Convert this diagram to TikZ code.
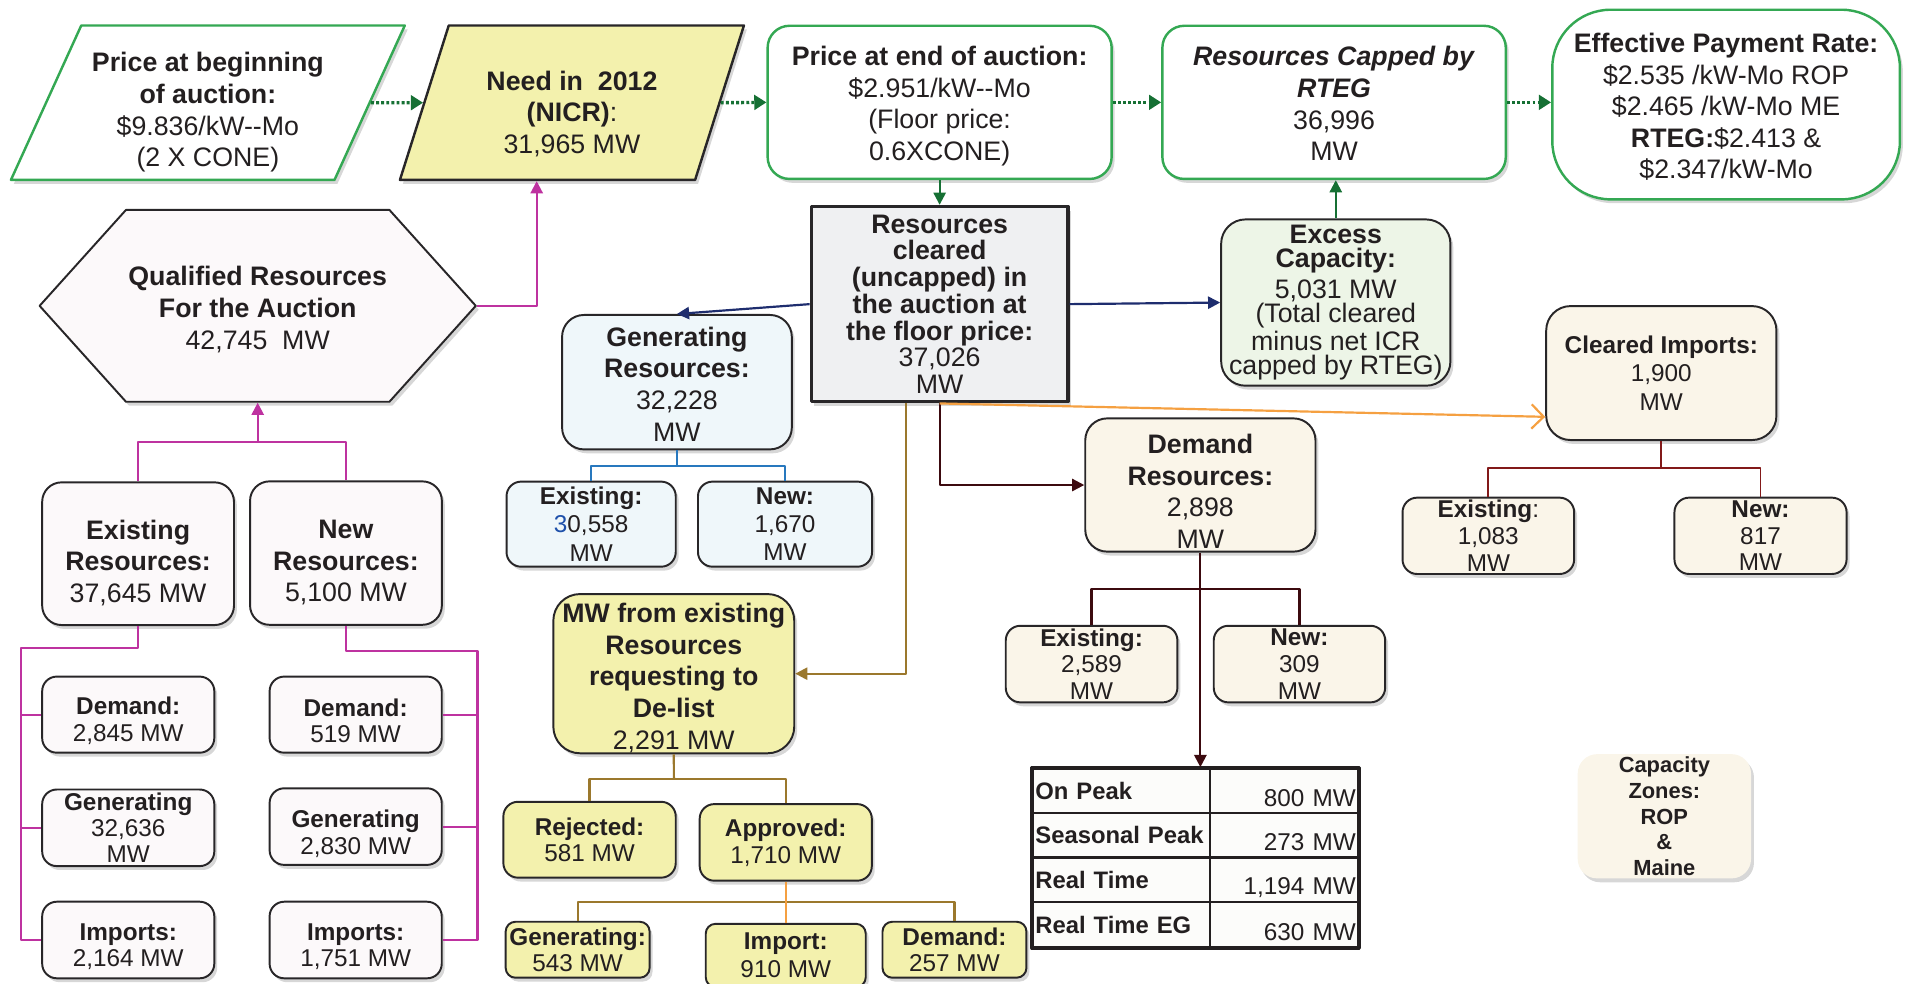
\documentclass[tikz,border=0pt]{standalone}
\usepackage{fontspec}
\setmainfont{Liberation Sans}
\usetikzlibrary{shapes.geometric,shapes.symbols,arrows.meta,shadows}

\definecolor{ink}{RGB}{35,31,32}
\definecolor{edge}{RGB}{40,38,40}
\definecolor{grnline}{RGB}{52,168,83}
\definecolor{dkgreen}{RGB}{22,112,52}
\definecolor{yel}{RGB}{243,241,173}
\definecolor{pinkw}{RGB}{252,249,250}
\definecolor{grayf}{RGB}{239,240,242}
\definecolor{bluef}{RGB}{239,247,250}
\definecolor{greenf}{RGB}{237,245,231}
\definecolor{cream}{RGB}{250,245,233}
\definecolor{tabw}{RGB}{252,252,250}
\definecolor{mag}{RGB}{190,50,160}
\definecolor{navy}{RGB}{30,45,110}
\definecolor{busblue}{RGB}{40,120,190}
\definecolor{gold}{RGB}{155,120,45}
\definecolor{maroon}{RGB}{60,10,15}
\definecolor{busred}{RGB}{130,25,25}
\definecolor{orng}{RGB}{245,160,65}
\definecolor{digit}{RGB}{30,80,170}

% taller first line pushes the text block down
\newcommand{\topgap}[1]{\rule{0pt}{#1}}

\begin{document}
\begin{tikzpicture}[x=0.5pt, y=-0.5pt, line join=round,
  every node/.style={align=center, text=ink, inner sep=1pt},
  big/.style={font=\fontsize{11}{13}\selectfont},
  small/.style={font=\fontsize{10}{11}\selectfont},
  shade/.style={drop shadow={shadow xshift=1.2pt, shadow yshift=-1.6pt, opacity=0.35, fill=black!45}},
  card/.style={draw=edge, line width=0.8pt, rounded corners=7pt, shade},
  topbox/.style={card, big, draw=grnline, fill=white, line width=1pt, rounded corners=9pt,
    minimum height=63pt},
  pgram/.style={trapezium, trapezium stretches body, minimum height=63.5pt, line width=1pt,
    big, shade},
  subbox/.style={card, small, inner ysep=0pt, rounded corners=6pt},
  cellL/.style={draw=ink, line width=1pt, fill=tabw, minimum height=18.35pt, text width=70.7pt,
    inner xsep=1pt, align=left, font=\bfseries\fontsize{9.8}{11}\selectfont},
  cellR/.style={draw=ink, line width=1pt, fill=tabw, minimum height=18.35pt, text width=59pt,
    inner xsep=1pt, align=right, font=\fontsize{10}{11}\selectfont},
  tri/.style={-{Triangle[length=5pt,width=5pt]}},
  dotarrow/.style={draw=dkgreen, line width=1.4pt, dash pattern=on 1.2pt off 0.9pt,
    -{Triangle[length=5pt,width=6pt]}},
  grnarrow/.style={draw=dkgreen, line width=0.9pt, tri},
  magline/.style={draw=mag, line width=0.9pt},
  navyline/.style={draw=navy, line width=0.9pt},
  blueline/.style={draw=busblue, line width=0.8pt},
  goldline/.style={draw=gold, line width=0.9pt},
  maroonline/.style={draw=maroon, line width=0.9pt},
  redline/.style={draw=busred, line width=0.8pt},
  orangeline/.style={draw=orng, line width=0.9pt}]
\useasboundingbox (0,0) rectangle (1568,809);

% top row
\node[pgram, fill=white, draw=grnline, trapezium left angle=64, trapezium right angle=116,
  minimum width=162pt] (pb) at (171,84.5)
  {\topgap{16pt}\textbf{Price at beginning}\\\textbf{of auction:}\\\$9.836/kW-{}-Mo\\(2 X CONE)};
\node[pgram, fill=yel, draw=edge, trapezium left angle=66.6, trapezium right angle=113.4,
  minimum width=141.5pt] (need) at (470.5,84.5)
  {\topgap{17pt}\textbf{Need in\ \ 2012}\\\textbf{(NICR)}:\\31,965 MW};
\node[topbox, minimum width=141.5pt] (pe) at (773,84.2)
  {\topgap{11pt}\textbf{Price at end of auction:}\\\$2.951/kW-{}-Mo\\(Floor price:\\0.6XCONE)};
\node[topbox, minimum width=141.25pt] (rc) at (1097.5,84.2)
  {\topgap{9pt}\textbf{\itshape Resources Capped by}\\\textbf{\itshape RTEG}\\36,996\\MW};
\node[topbox, rounded corners=24pt, minimum width=143pt, minimum height=78pt] (ep) at (1420,86)
  {\topgap{10pt}\textbf{Effective Payment Rate:}\\\$2.535 /kW-Mo ROP\\\$2.465 /kW-Mo ME\\\textbf{RTEG:}\$2.413 \&\\\$2.347/kW-Mo};

% qualified resources
\node[signal, signal to=east and west, signal pointer angle=96, minimum width=177.3pt,
  minimum height=78.9pt, fill=pinkw, draw=edge, line width=0.8pt, shade, big] (qr) at (212,251.6)
  {\topgap{11pt}\textbf{Qualified Resources}\\\textbf{For the Auction}\\42,745\ \ MW};
\node[card, big, fill=pinkw, rounded corners=8pt, minimum width=78.9pt, minimum height=58.7pt] (er) at (113.6,455.5)
  {\topgap{15.5pt}\textbf{Existing}\\\textbf{Resources:}\\37,645 MW};
\node[card, big, fill=pinkw, rounded corners=8pt, minimum width=78.9pt, minimum height=59pt] (nr) at (284.6,455)
  {\topgap{15.5pt}\textbf{New}\\\textbf{Resources:}\\5,100 MW};
\node[subbox, fill=pinkw, minimum width=70.8pt, minimum height=31.3pt] (ld) at (105.5,587.9)
  {\topgap{12.3pt}\textbf{Demand:}\\2,845 MW};
\node[subbox, fill=pinkw, minimum width=70.8pt, minimum height=31.5pt, font=\fontsize{10}{10.7}\selectfont] (lg) at (105.5,681)
  {\textbf{Generating}\\32,636\\MW};
\node[subbox, fill=pinkw, minimum width=70.8pt, minimum height=31.5pt] (li) at (105.5,773.3)
  {\topgap{12.3pt}\textbf{Imports:}\\2,164 MW};
\node[subbox, fill=pinkw, minimum width=70.8pt, minimum height=31.3pt] (rd) at (292.6,587.9)
  {\topgap{12.3pt}\textbf{Demand:}\\519 MW};
\node[subbox, fill=pinkw, minimum width=70.8pt, minimum height=31.5pt] (rg) at (292.6,680)
  {\topgap{13.3pt}\textbf{Generating}\\2,830 MW};
\node[subbox, fill=pinkw, minimum width=70.8pt, minimum height=31.5pt] (ri) at (292.6,773.3)
  {\topgap{12.3pt}\textbf{Imports:}\\1,751 MW};

% cleared in the auction
\node[draw=edge, line width=1.5pt, fill=grayf, shade, minimum width=105.5pt, minimum height=80.2pt,
  inner sep=0pt, font=\fontsize{11}{11}\selectfont] (rcl) at (773,250.2)
  {\textbf{Resources}\\\textbf{cleared}\\\textbf{(uncapped) in}\\\textbf{the auction at}\\\textbf{the floor price:}\\37,026\\MW};
\node[card, big, fill=bluef, rounded corners=9pt, minimum width=94.5pt, minimum height=55.3pt] (gr) at (556.9,314.4)
  {\topgap{9.5pt}\textbf{Generating}\\\textbf{Resources:}\\32,228\\MW};
\node[subbox, fill=bluef, minimum width=69.6pt, minimum height=35pt, font=\fontsize{10}{11.7}\selectfont] (ge) at (486.3,431.2)
  {\textbf{Existing:}\\\textcolor{digit}{3}0,558\\MW};
\node[subbox, fill=bluef, minimum width=71.6pt, minimum height=35pt, font=\fontsize{10}{11.7}\selectfont] (gn) at (645.8,431.2)
  {\textbf{New:}\\1,670\\MW};
\node[card, fill=greenf, rounded corners=10pt, minimum width=94.3pt, minimum height=68.4pt,
  inner sep=0pt, font=\fontsize{11}{10}\selectfont] (ec) at (1098.9,248.9)
  {\textbf{Excess}\\\textbf{Capacity:}\\[2.5pt]5,031 MW\\(Total cleared\\minus net ICR\\capped by RTEG)};

% de-list requests
\node[card, big, fill=yel, rounded corners=11pt, minimum width=99.1pt, minimum height=65.5pt, inner sep=0pt] (dl) at (554.3,554.2)
  {\topgap{11.5pt}\textbf{MW from existing}\\\textbf{Resources}\\\textbf{requesting to}\\\textbf{De-list}\\2,291 MW};
\node[subbox, fill=yel, minimum width=70.9pt, minimum height=31.2pt] (rej) at (485,690.8)
  {\textbf{Rejected:}\\581 MW};
\node[subbox, fill=yel, minimum width=70.8pt, minimum height=31.5pt] (app) at (646.4,693)
  {\textbf{Approved:}\\1,710 MW};
\node[subbox, fill=yel, minimum width=59.2pt, minimum height=23pt, rounded corners=4pt] (dg) at (475.2,781.3)
  {\textbf{Generating:}\\543 MW};
\node[subbox, fill=yel, minimum width=65.8pt, minimum height=26pt, rounded corners=4pt, font=\fontsize{10}{11.7}\selectfont] (di) at (646.4,786)
  {\textbf{Import:}\\910 MW};
\node[subbox, fill=yel, minimum width=59.2pt, minimum height=23pt, rounded corners=4pt] (dd) at (785.2,781.3)
  {\textbf{Demand:}\\257 MW};

% demand resources
\node[card, big, fill=cream, rounded corners=9pt, minimum width=94.7pt, minimum height=54.8pt] (dr) at (987.5,399)
  {\topgap{13pt}\textbf{Demand}\\\textbf{Resources:}\\2,898\\MW};
\node[subbox, fill=cream, minimum width=70.6pt, minimum height=31.5pt] (de) at (898,546.3)
  {\textbf{Existing:}\\2,589\\MW};
\node[subbox, fill=cream, minimum width=70.5pt, minimum height=31.5pt] (dn) at (1069,546.3)
  {\textbf{New:}\\309\\MW};

% on peak etc.
\node[cellL] (tl1) at (922.5,650.45) {On Peak};
\node[cellL] (tl2) at (922.5,687.15) {Seasonal Peak};
\node[cellL] (tl3) at (922.5,723.85) {Real Time};
\node[cellL] (tl4) at (922.5,760.55) {Real Time EG};
\node[cellR] (tr1) at (1056.3,650.45) {\raisebox{-3pt}[\height][\depth]{800 MW}};
\node[cellR] (tr2) at (1056.3,687.15) {\raisebox{-3pt}[\height][\depth]{273 MW}};
\node[cellR] (tr3) at (1056.3,723.85) {\raisebox{-3pt}[\height][\depth]{1,194 MW}};
\node[cellR] (tr4) at (1056.3,760.55) {\raisebox{-3pt}[\height][\depth]{630 MW}};
\draw[line width=1.3pt, draw=ink] (tl1.north west) rectangle (tr4.south east);

% imports
\node[card, fill=cream, rounded corners=10pt, minimum width=94.7pt, minimum height=55.1pt,
  font=\fontsize{10}{11.7}\selectfont] (ci) at (1366.7,306.9)
  {\textbf{Cleared Imports:}\\1,900\\MW};
\node[subbox, fill=cream, minimum width=70.6pt, minimum height=31.4pt] (ce) at (1224.4,440.8)
  {\textbf{Existing}:\\1,083\\MW};
\node[subbox, fill=cream, minimum width=70.8pt, minimum height=31.4pt] (cn) at (1448.3,440.8)
  {\textbf{New:}\\817\\MW};
\node[fill=cream, rounded corners=8pt, shade, minimum width=71.3pt, minimum height=51.1pt, inner sep=0pt,
  font=\bfseries\fontsize{9}{10.6}\selectfont] (cz) at (1369.2,671.5)
  {Capacity\\Zones:\\ROP\\\&\\Maine};

% connectors
\draw[dotarrow] (pb.east) -- (need.west);
\draw[dotarrow] (need.east) -- (pe.west);
\draw[dotarrow] (pe.east) -- (rc.west);
\draw[dotarrow] (rc.east) -- (rc.east -| ep.west);
\draw[grnarrow] (pe.south) -- (rcl.north);
\draw[grnarrow] (ec.north) -- (ec.north |- rc.south);

\draw[magline, tri] (qr.east) -| ([xshift=-14.5pt]need.south);
\coordinate (qbus) at (212,363.3);
\draw[magline] (er.north) |- (qbus) -| (nr.north);
\draw[magline, tri] (qbus) -- (qr.south);
\coordinate (lbus) at (17.6,533.4);
\draw[magline] (er.south) |- (lbus) |- (li.west);
\draw[magline] (lbus) |- (ld.west);
\draw[magline] (lbus) |- (lg.west);
\coordinate (rbus) at (392.8,535.3);
\draw[magline] (nr.south) |- (rbus) |- (ri.east);
\draw[magline] (rbus) |- (rd.east);
\draw[magline] (rbus) |- (rg.east);

\draw[navyline, tri] (rcl.west) -- (gr.north);
\draw[navyline, tri] (rcl.east) -- (ec.west);
\coordinate (gbus) at (556.9,383);
\draw[blueline] (gr.south) -- (gbus);
\draw[blueline] (ge.north) |- (gbus) -| (gn.north);

\draw[goldline, tri] ([xshift=-14pt]rcl.south) |- (dl.east);
\coordinate (dbus) at (554.4,640.8);
\draw[goldline] (dl.south) -- (dbus);
\draw[goldline] (rej.north) |- (dbus) -| (app.north);
\coordinate (abus) at (646.4,741.7);
\draw[goldline] (dg.north) |- (abus) -| (dd.north);
\draw[orangeline] (app.south) -- (di.north);

\draw[maroonline, tri] (rcl.south) |- (dr.west);
\draw[orangeline, -{Straight Barb[length=5pt,width=10pt]}] (rcl.south) -- ([yshift=-18pt]ci.west);
\draw[maroonline, tri] (dr.south) -- (dr.south |- tl1.north);
\coordinate (mbus) at (987.6,484.5);
\draw[maroonline] (de.north) |- (mbus) -| (dn.north);
\coordinate (cbus) at (1366.7,385.3);
\draw[redline] (ci.south) -- (cbus);
\draw[redline] (ce.north) |- (cbus) -| (cn.north);
\end{tikzpicture}
\end{document}
